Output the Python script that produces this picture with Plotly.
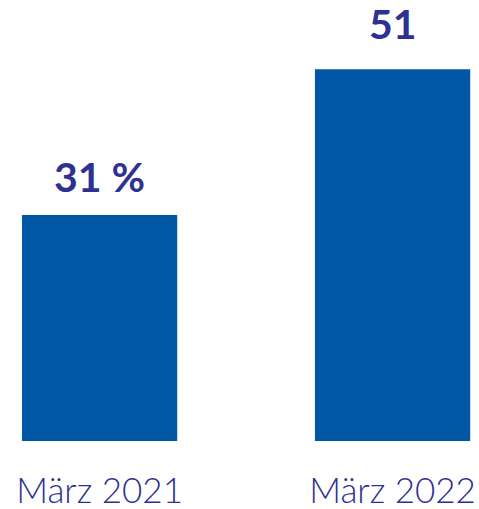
import plotly.graph_objects as go

kategorien = ["März 2021", "März 2022"]
werte = [31, 51]
einheit = [" %", ""]

beschriftung = [f"{w}{e}" for w, e in zip(werte, einheit)]

fig = go.Figure()
fig.add_trace(go.Bar(
    x=kategorien, y=werte,
    marker=dict(color="#0057A5", line=dict(width=0)),
    width=0.53,
))

# Wertebeschriftung über den Balken (Abstand wie im Original leicht unterschiedlich)
abstand = [12, 19]
for k, w, b, s in zip(kategorien, werte, beschriftung, abstand):
    fig.add_annotation(x=k, y=w, text=b, showarrow=False, yanchor="bottom", yshift=s,
                       font=dict(family="Lato", size=41, color="#2E3192", weight="bold"))

fig.update_layout(
    width=479, height=509,
    margin=dict(l=0, r=0, t=0, b=68),
    plot_bgcolor="white", paper_bgcolor="white",
    showlegend=False,
    font=dict(family="Lato"),
)
fig.update_xaxes(range=[-0.34, 1.295], showgrid=False, showline=False, ticks="",
                 automargin=False, ticklabelstandoff=26,
                 tickfont=dict(family="Lato", size=35, color="#2E3192", weight=300))
fig.update_yaxes(range=[0, 60.5], visible=False)

fig.write_html("out.html", config={"displayModeBar": False},
               post_script="document.body.style.margin='0px';")
